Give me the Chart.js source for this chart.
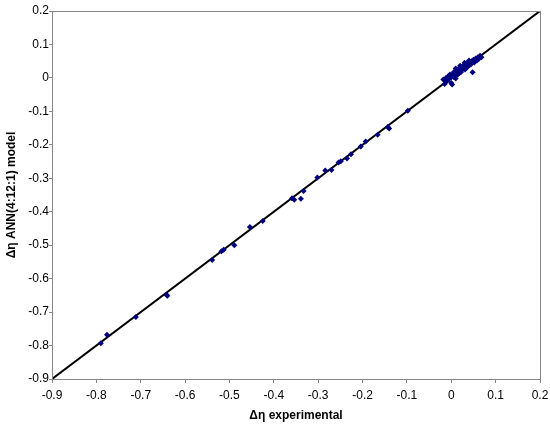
<!DOCTYPE html>
<html>
<head>
<meta charset="utf-8">
<script src="https://cdn.jsdelivr.net/npm/chart.js@4/dist/chart.umd.min.js"></script>
<style>
html,body{margin:0;padding:0;background:#fff;}
#c{display:block;}
</style>
</head>
<body>
<canvas id="c" width="550" height="427"></canvas>
<script>
// Experimental Δη values (x) and ANN(4:12:1) model predictions (y)
const expX = [-0.790,-0.776,-0.711,-0.642,-0.640,-0.539,-0.518,-0.513,-0.489,-0.454,-0.425,
  -0.359,-0.354,-0.339,-0.333,-0.302,-0.284,-0.270,-0.254,-0.249,-0.235,-0.226,-0.204,-0.193,-0.166,-0.143,-0.140,-0.098,
  -0.018,-0.015,-0.012,-0.010,-0.007,-0.005,-0.003,0.000,0.000,0.002,0.003,0.005,0.006,0.008,0.010,0.010,0.012,0.013,
  0.015,0.016,0.018,0.019,0.020,0.022,0.023,0.025,0.026,0.028,0.030,0.031,0.033,0.035,0.036,0.038,0.040,0.042,
  0.044,0.046,0.048,0.050,0.052,0.055,0.058,0.060,0.063,0.065,0.068,0.010,0.020,0.030,0.040];
const annY = [-0.793,-0.768,-0.715,-0.648,-0.651,-0.544,-0.518,-0.514,-0.500,-0.446,-0.428,
  -0.360,-0.364,-0.361,-0.338,-0.298,-0.277,-0.275,-0.253,-0.249,-0.241,-0.228,-0.205,-0.190,-0.170,-0.147,-0.151,-0.098,
  -0.005,-0.018,0.000,-0.010,0.005,-0.003,0.010,0.002,-0.015,-0.020,0.012,0.003,0.018,0.005,0.020,-0.002,0.012,0.025,
  0.010,0.022,0.015,0.030,0.022,0.018,0.032,0.026,0.035,0.028,0.038,0.025,0.035,0.042,0.032,0.045,0.038,0.048,
  0.040,0.050,0.017,0.054,0.046,0.058,0.052,0.062,0.058,0.066,0.062,0.028,0.036,0.045,0.052];
// y = x reference line
const lineX = [-0.9, 0.2];
const lineY = [-0.9, 0.2];
const axisMin = -0.9, axisMax = 0.2, axisStep = 0.1;

const FONT = "'Liberation Sans', Arial, sans-serif";

const frame = {
  id: 'frame',
  afterDatasetsDraw(chart) {
    const a = chart.chartArea, ctx = chart.ctx;
    ctx.save();
    ctx.strokeStyle = '#868686';
    ctx.lineWidth = 1;
    ctx.strokeRect(Math.round(a.left) + 0.5, Math.round(a.top) + 0.5,
      Math.round(a.right - a.left), Math.round(a.bottom - a.top));
    ctx.restore();
  }
};

new Chart(document.getElementById('c'), {
  type: 'scatter',
  data: {
    datasets: [
      {
        data: lineX.map((x, i) => ({x, y: lineY[i]})),
        showLine: true,
        borderColor: '#000',
        borderWidth: 2,
        pointRadius: 0,
        order: 2
      },
      {
        data: expX.map((x, i) => ({x, y: annY[i]})),
        pointStyle: 'rectRot',
        pointRadius: 3,
        backgroundColor: '#000080',
        borderColor: '#000080',
        borderWidth: 0,
        order: 1
      }
    ]
  },
  options: {
    responsive: false,
    animation: false,
    layout: { padding: { top: 11, right: 10, left: 0, bottom: 0 } },
    plugins: { legend: { display: false }, tooltip: { enabled: false } },
    scales: {
      x: {
        type: 'linear', min: axisMin, max: axisMax,
        afterFit(s) { s.height = 48; s.paddingLeft = 0; s.paddingRight = 0; },
        border: { display: true, color: '#868686' },
        grid: { drawOnChartArea: false, drawTicks: true, tickLength: 4, color: '#868686' },
        ticks: {
          stepSize: axisStep, padding: 5, color: '#000',
          font: { family: FONT, size: 12 },
          callback: v => { const r = Math.round(v * 10) / 10; return r === 0 ? '0' : r.toString(); }
        },
        title: { display: true, text: 'Δη experimental', color: '#000',
          font: { family: FONT, size: 12, weight: 'bold' }, padding: { top: 4, bottom: 4 } }
      },
      y: {
        type: 'linear', min: axisMin, max: axisMax,
        afterFit(s) { s.width = 52; s.paddingTop = 0; s.paddingBottom = 0; },
        border: { display: true, color: '#868686' },
        grid: { drawOnChartArea: false, drawTicks: true, tickLength: 3, color: '#868686' },
        ticks: {
          stepSize: axisStep, padding: 0, color: '#000',
          font: { family: FONT, size: 12 },
          callback: v => { const r = Math.round(v * 10) / 10; return r === 0 ? '0' : r.toString(); }
        },
        title: { display: true, text: 'Δη ANN(4:12:1) model', color: '#000',
          font: { family: FONT, size: 12, weight: 'bold' }, padding: { top: 4, bottom: 4 } }
      }
    }
  },
  plugins: [frame]
});
</script>
</body>
</html>
